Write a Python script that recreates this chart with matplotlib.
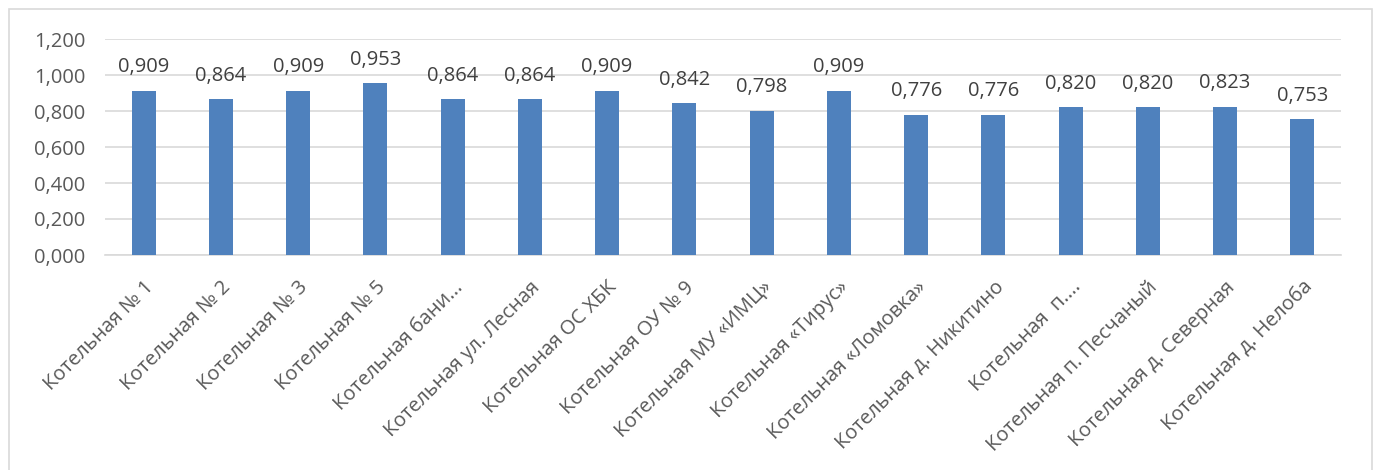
import matplotlib
matplotlib.use("Agg")
import matplotlib.pyplot as plt
from matplotlib.patches import Rectangle

plt.rcParams['font.family'] = ['Open Sans', 'DejaVu Sans']

labels = ["Котельная № 1", "Котельная № 2", "Котельная № 3", "Котельная № 5",
          "Котельная бани...", "Котельная ул. Лесная", "Котельная ОС ХБК",
          "Котельная ОУ № 9", "Котельная МУ «ИМЦ»", "Котельная «Тирус»",
          "Котельная «Ломовка»", "Котельная д. Никитино", "Котельная  п....",
          "Котельная п. Песчаный", "Котельная д. Северная", "Котельная д. Нелоба"]
values = [0.909, 0.864, 0.909, 0.953, 0.864, 0.864, 0.909, 0.842,
          0.798, 0.909, 0.776, 0.776, 0.820, 0.820, 0.823, 0.753]
yticks = [0.0, 0.2, 0.4, 0.6, 0.8, 1.0, 1.2]

def fmt(v):
    return f"{v:.3f}".replace(".", ",")

fig = plt.figure(figsize=(13.73, 4.70), dpi=100)
# chart frame
fig.patches.append(Rectangle((9 / 1373, -0.01), 1363 / 1373, 1 - 9 / 470 + 0.01,
                             transform=fig.transFigure, fill=False,
                             edgecolor="#D9D9D9", linewidth=1.2))
ax = fig.add_axes([105 / 1373, 1 - 255 / 470, 1236 / 1373, 216 / 470])

x = range(len(values))
bars = ax.bar(x, values, width=0.31, color="#4F81BD", zorder=3)
for xi, v in zip(x, values):
    ax.annotate(fmt(v), (xi, v), xytext=(0, 10), textcoords="offset points",
                ha="center", va="bottom", fontsize=14.5, color="#404040")

ax.set_xlim(-0.5, len(values) - 0.5)
ax.set_ylim(0, 1.2)
ax.set_yticks(yticks)
ax.set_yticklabels([fmt(t) for t in yticks], fontsize=14.5, color="#595959")
ax.set_xticks(list(x))
ax.set_xticklabels(labels, rotation=45, ha="right", rotation_mode="anchor",
                   fontsize=14.5, color="#595959")
ax.tick_params(axis="both", length=0)
ax.tick_params(axis="y", pad=14)
ax.tick_params(axis="x", pad=16)
ax.grid(axis="y", color="#D9D9D9", linewidth=1.2, zorder=0)
for s in ["top", "right", "left"]:
    ax.spines[s].set_visible(False)
ax.spines["bottom"].set_color("#D9D9D9")
ax.spines["bottom"].set_linewidth(1.2)

fig.savefig("out.png", dpi=100)
